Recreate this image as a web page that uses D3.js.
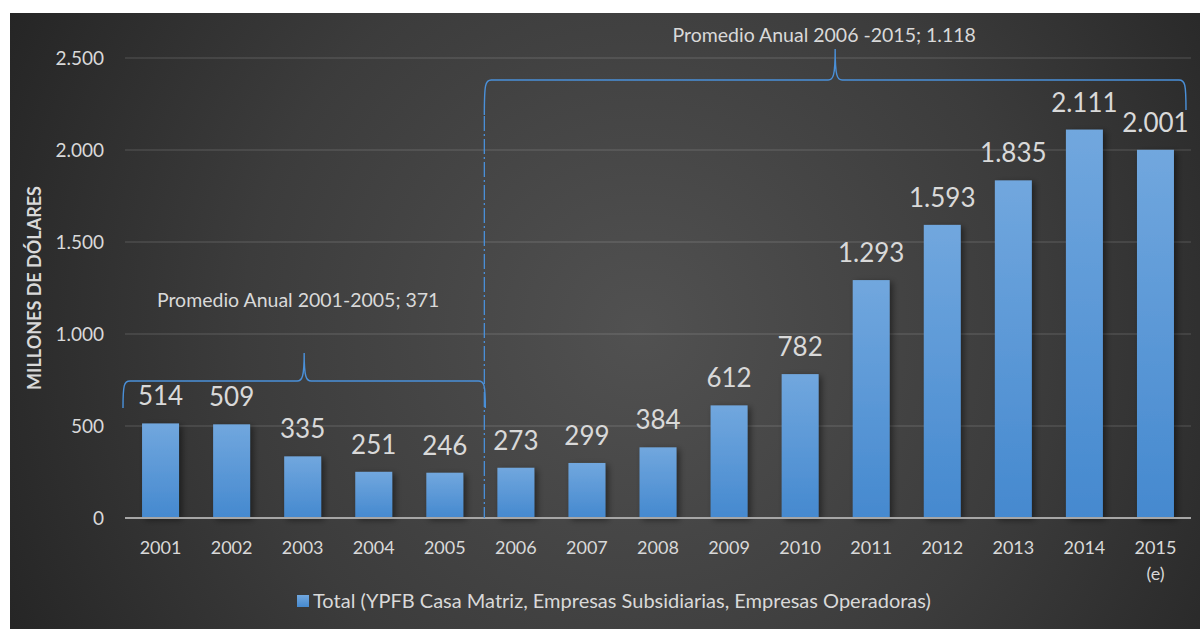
<!DOCTYPE html>
<html>
<head>
<meta charset="utf-8">
<script src="https://cdn.jsdelivr.net/npm/d3@7"></script>
<style>
  html, body { margin: 0; padding: 0; background: #ffffff; }
  svg { display: block; }
</style>
</head>
<body>
<script>
// Inversión anual (millones de dólares)
const years = ["2001","2002","2003","2004","2005","2006","2007","2008","2009","2010","2011","2012","2013","2014","2015"];
const values = [514, 509, 335, 251, 246, 273, 299, 384, 612, 782, 1293, 1593, 1835, 2111, 2001];
const valueLabels = ["514","509","335","251","246","273","299","384","612","782","1.293","1.593","1.835","2.111","2.001"];
const yTicks = [0, 500, 1000, 1500, 2000, 2500];
const yTickLabels = ["0","500","1.000","1.500","2.000","2.500"];
const estimatedYear = "2015";
const periods = [
  { label: "Promedio Anual 2001-2005; 371", from: "2001", to: "2005" },
  { label: "Promedio Anual 2006 -2015; 1.118", from: "2006", to: "2015" }
];
const legendLabel = "Total (YPFB Casa Matriz, Empresas Subsidiarias, Empresas Operadoras)";
const yTitle = "MILLONES DE DÓLARES";

const W = 1200, H = 629;
const FONT = "Lato, 'Open Sans', sans-serif";
const TXT = "#d9d9d9";
const BLUE = "#4a90d9";

const svg = d3.select("body").append("svg").attr("width", W).attr("height", H);
const defs = svg.append("defs");

const bg = defs.append("radialGradient").attr("id", "bg")
  .attr("gradientUnits", "userSpaceOnUse")
  .attr("cx", 640).attr("cy", 330).attr("r", 720);
bg.append("stop").attr("offset", "0%").attr("stop-color", "#515151");
bg.append("stop").attr("offset", "55%").attr("stop-color", "#3c3c3c");
bg.append("stop").attr("offset", "100%").attr("stop-color", "#242424");

const barGrad = defs.append("linearGradient").attr("id", "barGrad")
  .attr("x1", 0).attr("y1", 0).attr("x2", 0).attr("y2", 1);
barGrad.append("stop").attr("offset", "0%").attr("stop-color", "#71a7de");
barGrad.append("stop").attr("offset", "100%").attr("stop-color", "#4589cf");

const shadow = defs.append("filter").attr("id", "shadow")
  .attr("x", "-20%").attr("y", "-10%").attr("width", "160%").attr("height", "130%");
shadow.append("feDropShadow").attr("dx", 3).attr("dy", 2).attr("stdDeviation", 3)
  .attr("flood-color", "#000").attr("flood-opacity", 0.45);

// panel
svg.append("rect").attr("x", 10).attr("y", 13).attr("width", W - 10).attr("height", H - 13)
  .attr("fill", "url(#bg)");

const plot = { left: 125, right: 1191, top: 58, bottom: 518 };

const x = d3.scaleBand().domain(years).range([plot.left, plot.right]).paddingInner(0.48).paddingOuter(0.24);
const y = d3.scaleLinear().domain([0, 2500]).range([plot.bottom, plot.top]);

// gridlines
svg.append("g").selectAll("line").data(yTicks.filter(d => d > 0)).join("line")
  .attr("x1", plot.left).attr("x2", plot.right)
  .attr("y1", d => y(d)).attr("y2", d => y(d))
  .attr("stroke", "#ffffff").attr("stroke-opacity", 0.12).attr("stroke-width", 1.5);

// y tick labels
svg.append("g").selectAll("text").data(yTicks).join("text")
  .attr("x", 104).attr("y", d => y(d) + 7)
  .attr("text-anchor", "end")
  .attr("font-family", FONT).attr("font-size", 19).attr("fill", TXT)
  .text((d, i) => yTickLabels[i]);

// y title
svg.append("text")
  .attr("transform", "translate(41,288) rotate(-90)")
  .attr("text-anchor", "middle")
  .attr("font-family", FONT).attr("font-size", 18).attr("font-weight", "bold").attr("fill", TXT)
  .text(yTitle);

// bars
svg.append("g").attr("filter", "url(#shadow)").selectAll("rect").data(values).join("rect")
  .attr("x", (d, i) => x(years[i]))
  .attr("width", x.bandwidth())
  .attr("y", d => y(d))
  .attr("height", d => y(0) - y(d))
  .attr("fill", "url(#barGrad)");

// baseline
svg.append("line")
  .attr("x1", plot.left).attr("x2", plot.right)
  .attr("y1", y(0)).attr("y2", y(0))
  .attr("stroke", "#a6a6a6").attr("stroke-width", 2);

// value labels
svg.append("g").selectAll("text").data(values).join("text")
  .attr("x", (d, i) => x(years[i]) + x.bandwidth() / 2)
  .attr("y", d => y(d) - 18)
  .attr("text-anchor", "middle")
  .attr("font-family", FONT).attr("font-size", 26).attr("fill", TXT)
  .text((d, i) => valueLabels[i]);

// year labels
const yl = svg.append("g").selectAll("text").data(years).join("text")
  .attr("x", d => x(d) + x.bandwidth() / 2)
  .attr("y", 554)
  .attr("text-anchor", "middle")
  .attr("font-family", FONT).attr("font-size", 18).attr("fill", TXT);
yl.append("tspan").text(d => d);
yl.filter(d => d === estimatedYear).append("tspan")
  .attr("x", d => x(d) + x.bandwidth() / 2).attr("dy", 26).text("(e)");

// period separator
const step = x.step();
const sepX = x("2006") - (step - x.bandwidth()) / 2 + 4;
svg.append("line")
  .attr("x1", sepX).attr("x2", sepX)
  .attr("y1", 116).attr("y2", y(0))
  .attr("stroke", BLUE).attr("stroke-width", 1.3)
  .attr("stroke-dasharray", "15,3,2,3");

// curly braces with labels
function bracePath(x0, x1, yLine, yEnd0, yEnd1, yTip) {
  const xm = (x0 + x1) / 2;
  const r = 7;
  return `M${x0},${yEnd0} C${x0},${yLine + 4} ${x0 + 1},${yLine} ${x0 + r},${yLine}`
    + ` L${xm - r},${yLine} C${xm - 2},${yLine} ${xm},${yLine - 4} ${xm},${yTip}`
    + ` C${xm},${yLine - 4} ${xm + 2},${yLine} ${xm + r},${yLine}`
    + ` L${x1 - r},${yLine} C${x1 - 1},${yLine} ${x1},${yLine + 4} ${x1},${yEnd1}`;
}

const braceSpecs = [
  { x0: plot.left - 2, x1: sepX + 1, yLine: 381, yEnd0: 408, yEnd1: 408, yTip: 353, ty: 307, dx: -6 },
  { x0: sepX, x1: plot.right - 5, yLine: 80, yEnd0: 115, yEnd1: 110, yTip: 49, ty: 42, dx: -11 }
];

periods.forEach((p, i) => {
  const b = braceSpecs[i];
  svg.append("path")
    .attr("d", bracePath(b.x0, b.x1, b.yLine, b.yEnd0, b.yEnd1, b.yTip))
    .attr("fill", "none").attr("stroke", BLUE).attr("stroke-width", 1.4);
  svg.append("text")
    .attr("x", (b.x0 + b.x1) / 2 + b.dx).attr("y", b.ty)
    .attr("text-anchor", "middle")
    .attr("font-family", FONT).attr("font-size", 19.5).attr("fill", TXT)
    .text(p.label);
});

// legend
const leg = svg.append("g");
leg.append("text")
  .attr("x", 313).attr("y", 608)
  .attr("font-family", FONT).attr("font-size", 20).attr("fill", TXT)
  .text(legendLabel);
leg.append("rect").attr("x", 297).attr("y", 595).attr("width", 12).attr("height", 12)
  .attr("fill", "url(#barGrad)");
</script>
</body>
</html>
